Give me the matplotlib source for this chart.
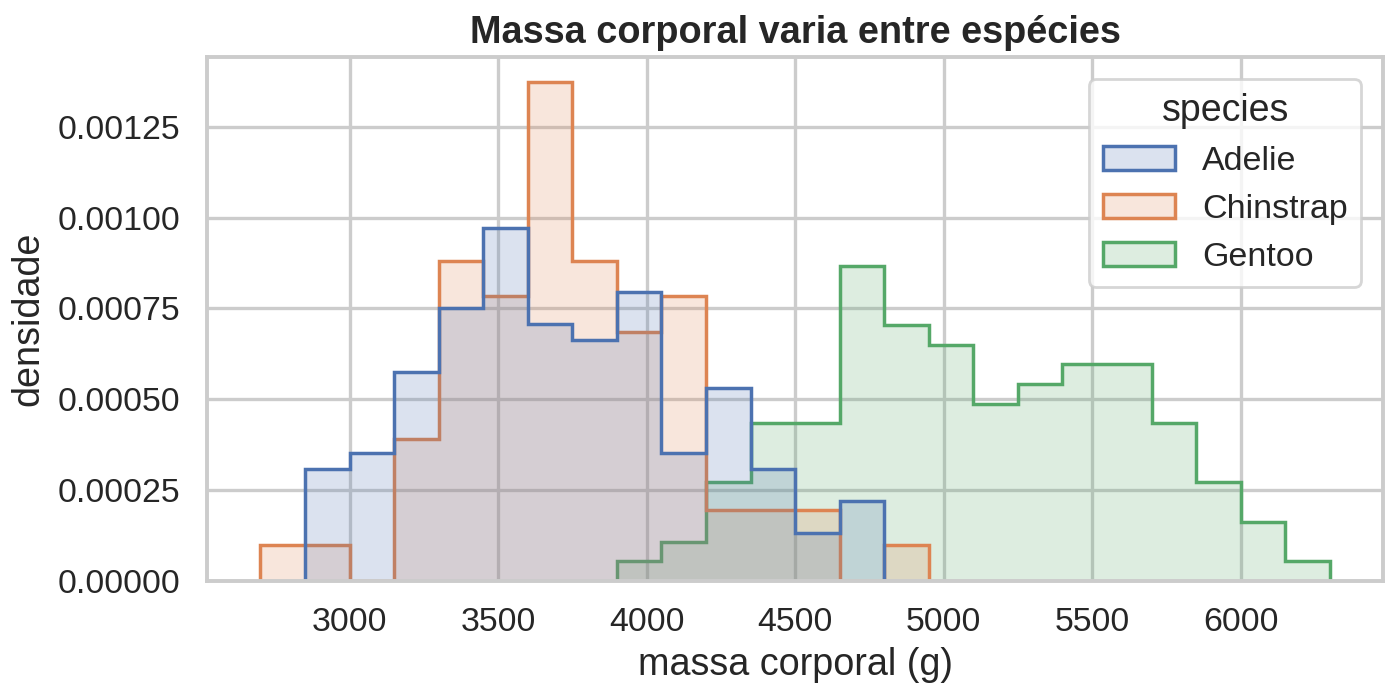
import numpy as np
import matplotlib
matplotlib.use("Agg")
import matplotlib.pyplot as plt
import seaborn as sns
from matplotlib.patches import Patch

# bin edges (g) and per-species densities
bin_edges = [2700, 2850, 3000, 3150, 3300, 3450, 3600, 3750, 3900, 4050, 4200,
             4350, 4500, 4650, 4800, 4950, 5100, 5250, 5400, 5550, 5700, 5850,
             6000, 6150, 6300]

adelie = [0.0, 0.000309, 0.000353, 0.000574, 0.000751, 0.000971, 0.000706,
          0.000662, 0.000795, 0.000353, 0.000530, 0.000309, 0.000132, 0.000221,
          0.0, 0.0, 0.0, 0.0, 0.0, 0.0, 0.0, 0.0, 0.0, 0.0]
chinstrap = [0.000098, 0.000098, 0.0, 0.000392, 0.000882, 0.000784, 0.001373,
             0.000882, 0.000686, 0.000784, 0.000196, 0.000196, 0.000196, 0.0,
             0.000098, 0.0, 0.0, 0.0, 0.0, 0.0, 0.0, 0.0, 0.0, 0.0]
gentoo = [0.0, 0.0, 0.0, 0.0, 0.0, 0.0, 0.0, 0.0, 0.000054, 0.000108,
          0.000271, 0.000434, 0.000434, 0.000867, 0.000705, 0.000650, 0.000488,
          0.000542, 0.000596, 0.000596, 0.000434, 0.000271, 0.000163, 0.000054]

species = ["Adelie", "Chinstrap", "Gentoo"]
series = [adelie, chinstrap, gentoo]

sns.set_theme(style="whitegrid", context="notebook")
plt.rcParams["font.family"] = ["Arial", "Liberation Sans", "DejaVu Sans"]
plt.rcParams["grid.linewidth"] = 1.2
plt.rcParams["axes.linewidth"] = 1.4

colors = sns.color_palette("deep", 3)

fig = plt.figure(figsize=(6.965, 3.495), dpi=200)
ax = fig.add_axes([0.1486, 0.169, 0.8444, 0.749])

edges = np.array(bin_edges, dtype=float)
# seaborn draws hue levels in reverse order
for name, vals, col in reversed(list(zip(species, series, colors))):
    v = np.array(vals)
    nz = np.nonzero(v)[0]
    lo, hi = nz[0], nz[-1] + 1
    ax.stairs(v[lo:hi], edges[lo:hi + 1], fill=True, color=col, alpha=0.2,
              linewidth=0)
    ax.stairs(v[lo:hi], edges[lo:hi + 1], color=col, linewidth=1.25,
              baseline=0)

ax.set_xlim(2520, 6480)
ax.set_ylim(0, 0.0014416)
ax.set_yticks([0, 0.00025, 0.0005, 0.00075, 0.001, 0.00125])
ax.set_yticklabels(["0.00000", "0.00025", "0.00050", "0.00075", "0.00100", "0.00125"])
ax.set_xticks([3000, 3500, 4000, 4500, 5000, 5500, 6000])

ax.set_xlabel("massa corporal (g)", fontsize=13.6, labelpad=3)
ax.set_ylabel("densidade", fontsize=13.6, labelpad=4)
ax.set_title("Massa corporal varia entre espécies", fontsize=13.65, fontweight="bold", pad=5)
ax.tick_params(labelsize=12.2, pad=3.5)

handles = [Patch(facecolor=(*c, 0.2), edgecolor=c, linewidth=1.25) for c in colors]
leg = ax.legend(handles, species, title="species", loc="upper right",
                fontsize=12.25, title_fontsize=13.5, borderaxespad=0.65,
                handlelength=2.1)

fig.savefig("out.png", dpi=200)
